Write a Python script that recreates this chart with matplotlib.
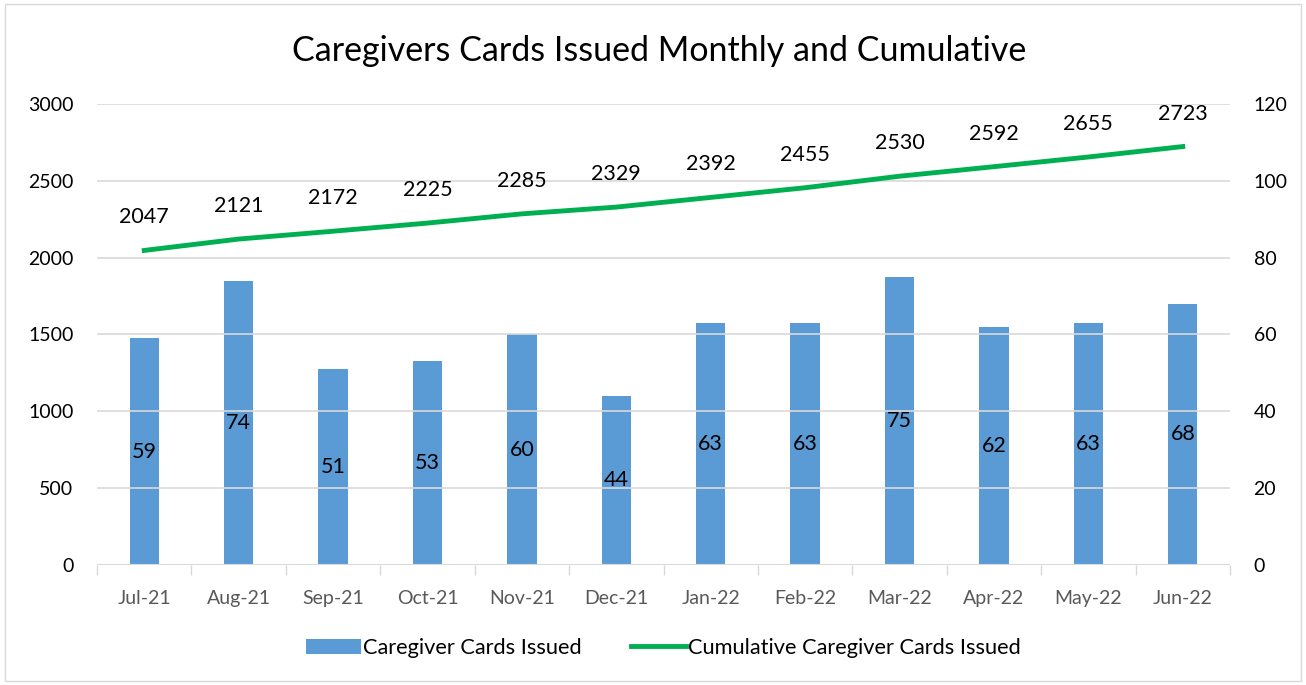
import matplotlib.pyplot as plt
import matplotlib.patches as mpatches
import numpy as np

months = ['Jul-21', 'Aug-21', 'Sep-21', 'Oct-21', 'Nov-21', 'Dec-21',
          'Jan-22', 'Feb-22', 'Mar-22', 'Apr-22', 'May-22', 'Jun-22']
issued = [59, 74, 51, 53, 60, 44, 63, 63, 75, 62, 63, 68]
cumulative = [2047, 2121, 2172, 2225, 2285, 2329, 2392, 2455, 2530, 2592, 2655, 2723]

plt.rcParams['font.family'] = ['Lato', 'DejaVu Sans']

fig = plt.figure(figsize=(13.06, 6.85), dpi=100)
fig.patches.append(mpatches.Rectangle((0.004, 0.006), 0.992, 0.988, transform=fig.transFigure,
                                      fill=False, edgecolor='#D9D9D9', linewidth=1))

ax = fig.add_axes([0.0743, 0.1752, 0.8675, 0.673])
ax2 = ax.twinx()

x = np.arange(len(months))

# bars on the secondary axis
bars = ax2.bar(x, issued, width=0.31, color='#5B9BD5', zorder=2)
for xi, v in zip(x, issued):
    ax2.text(xi, v / 2, str(v), ha='center', va='center', fontsize=15.5, color='black')
ax2.set_ylim(0, 120)
ax2.set_yticks(range(0, 121, 20))

# line on the primary axis
ax.set_zorder(ax2.get_zorder() + 1)
ax.patch.set_visible(False)
line, = ax.plot(x, cumulative, color='#00B050', linewidth=3.5, zorder=3)
for xi, v in zip(x, cumulative):
    ax.annotate(str(v), (xi, v), xytext=(0, 33), textcoords='offset pixels',
                ha='center', va='center', fontsize=15.5, color='black')
ax.set_ylim(0, 3000)
ax.set_yticks(range(0, 3001, 500))
ax.set_xlim(-0.5, len(months) - 0.5)
ax.set_xticks(x)
ax.set_xticklabels(months)
ax.set_xticks(np.arange(-0.5, len(months)), minor=True)

for a in (ax, ax2):
    for s in ['top', 'left', 'right', 'bottom']:
        a.spines[s].set_visible(False)
    a.tick_params(axis='y', length=0, labelsize=14, labelcolor='black', pad=17)
ax.tick_params(axis='x', which='major', length=0, labelsize=14, labelcolor='#595959', pad=18)
ax.tick_params(axis='x', which='minor', length=7, width=1, color='#D9D9D9')
ax2.tick_params(axis='x', length=0)
ax.yaxis.grid(True, color='#D9D9D9', linewidth=1.2)
ax.set_axisbelow(True)
ax.axhline(0, color='#D9D9D9', linewidth=1.5)

fig.text(0.505, 0.925, 'Caregivers Cards Issued Monthly and Cumulative', ha='center', va='center',
         fontsize=24.5, color='black')

fig.legend([bars, line], ['Caregiver Cards Issued', 'Cumulative Caregiver Cards Issued'],
           loc='center', bbox_to_anchor=(0.508, 0.054), ncol=2, frameon=False,
           fontsize=15.7, handlelength=2.5, handletextpad=0.1, columnspacing=2.3,
           labelcolor='black')

fig.savefig('out.png', dpi=100)
